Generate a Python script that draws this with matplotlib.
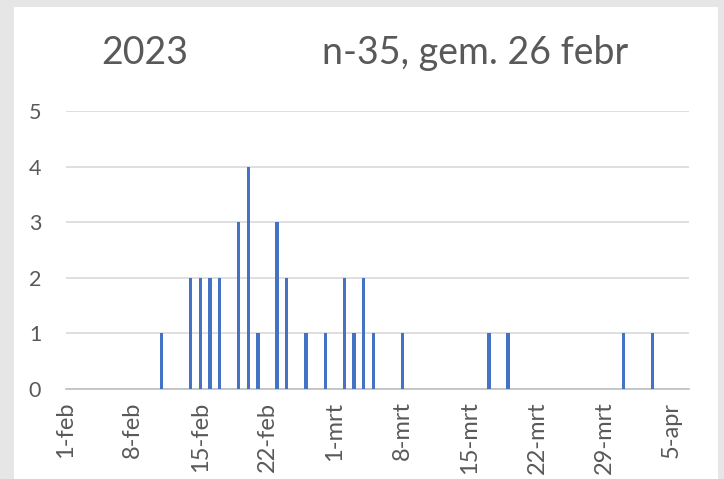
import matplotlib
matplotlib.use("Agg")
import matplotlib.pyplot as plt
import matplotlib.dates as mdates
import numpy as np
import datetime as dt
from matplotlib.patches import Rectangle

plt.rcParams['font.family'] = ['Lato', 'DejaVu Sans']

# Data
dates = ["2023-02-11", "2023-02-14", "2023-02-15", "2023-02-16", "2023-02-17",
         "2023-02-19", "2023-02-20", "2023-02-21", "2023-02-23", "2023-02-24",
         "2023-02-26", "2023-02-28", "2023-03-02", "2023-03-03", "2023-03-04",
         "2023-03-05", "2023-03-08", "2023-03-17", "2023-03-19", "2023-03-31",
         "2023-04-03"]
counts = [1, 2, 2, 2, 2, 3, 4, 1, 3, 2, 1, 1, 2, 1, 2, 1, 1, 1, 1, 1, 1]
tick_dates = ["2023-02-01", "2023-02-08", "2023-02-15", "2023-02-22", "2023-03-01",
              "2023-03-08", "2023-03-15", "2023-03-22", "2023-03-29", "2023-04-05"]
tick_labels = ["1-feb", "8-feb", "15-feb", "22-feb", "1-mrt",
               "8-mrt", "15-mrt", "22-mrt", "29-mrt", "5-apr"]
title_left = "2023"
title_right = "n-35, gem. 26 febr"

W, H = 724, 479
fig = plt.figure(figsize=(W / 100, H / 100), dpi=100)
fig.patch.set_facecolor("#e6e6e6")
bg = Rectangle((14 / W, 0), (718 - 14) / W, 1 - 7 / H,
               transform=fig.transFigure, facecolor="white",
               edgecolor="none", zorder=-10)
fig.add_artist(bg)

ax = fig.add_axes([65.5 / W, 1 - 389 / H, (689 - 65.5) / W, (389 - 111) / H])
ax.set_zorder(1)
ax.set_facecolor("none")

x = [mdates.date2num(dt.datetime.strptime(d, "%Y-%m-%d")) for d in dates]
ax.bar(x, counts, width=0.35, color="#4472C4", zorder=3)

start = mdates.date2num(dt.datetime(2023, 2, 1))
ax.set_xlim(start, start + 64.8)
ax.set_ylim(0, 5)

tx = [mdates.date2num(dt.datetime.strptime(d, "%Y-%m-%d")) for d in tick_dates]
ax.set_xticks(tx)
ax.set_xticklabels(tick_labels, rotation=90, fontsize=17, color="#595959",
                   ha="center", va="top")
ax.set_yticks(range(0, 6))
ax.set_yticklabels([str(i) for i in range(6)], fontsize=15.5, color="#595959")
ax.tick_params(axis="both", length=0)
ax.tick_params(axis="x", pad=9)
ax.tick_params(axis="y", pad=17.5)

ax.grid(axis="y", color="#d9d9d9", linewidth=1.2, zorder=0)
for s in ["top", "right", "left"]:
    ax.spines[s].set_visible(False)
ax.spines["bottom"].set_color("#bfbfbf")
ax.spines["bottom"].set_linewidth(1.2)

fig.text(145 / W, 1 - 53 / H, title_left, fontsize=27, color="#595959",
         ha="center", va="center", zorder=2)
fig.text(475 / W, 1 - 53 / H, title_right, fontsize=27, color="#595959",
         ha="center", va="center", zorder=2)

fig.savefig("out.png", dpi=100)
